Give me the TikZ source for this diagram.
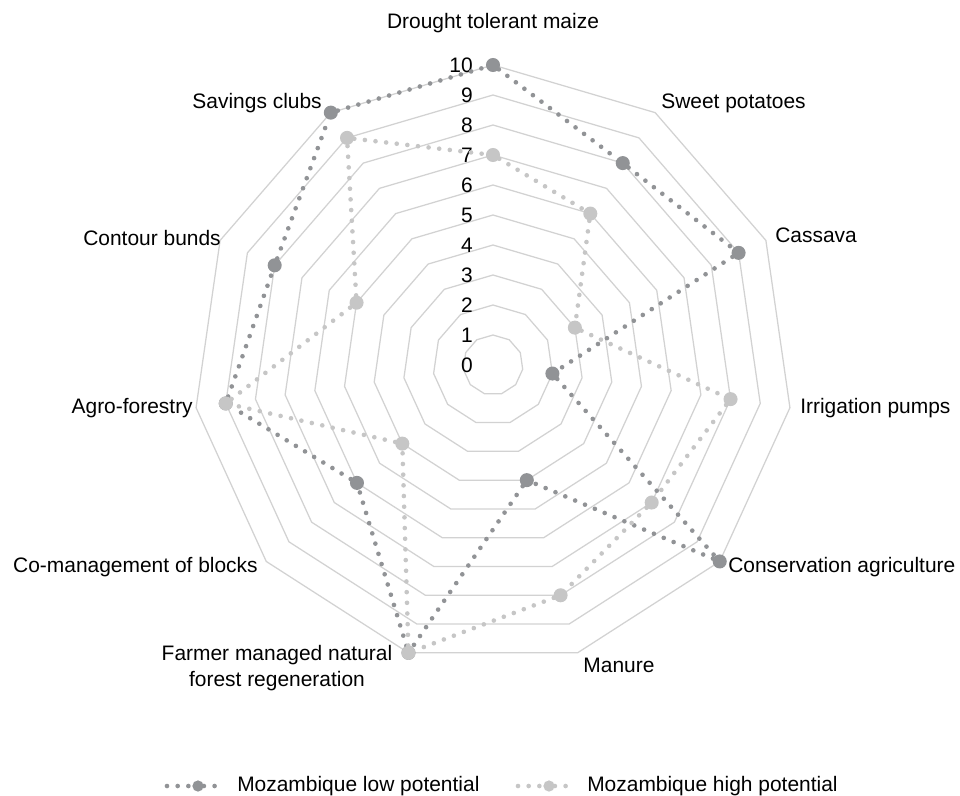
\documentclass[tikz,border=0pt]{standalone}
\usepackage{fontspec}
\setmainfont{Liberation Sans}
\usepackage{tikz}
\usepackage{xcolor}
\usetikzlibrary{positioning}
\definecolor{gridgray}{RGB}{210, 210, 210}
\definecolor{lowgray}{RGB}{145, 147, 150}
\definecolor{highgray}{RGB}{198, 198, 198}
\tikzset{
  gridline/.style={draw=gridgray, line width=0.9pt},
  serieline/.style={draw=#1, line width=3.3pt, line cap=round, dash pattern=on 0pt off 7.6pt},
  seriedot/.style={circle, fill=#1, inner sep=0pt, minimum size=10pt},
  keydot/.style={circle, fill=#1, inner sep=0pt, minimum size=8pt},
  catlabel/.style={font=\fontsize{14.9}{18.5}\selectfont, inner sep=0pt, text=black},
  levellabel/.style={font=\fontsize{14.9}{18.5}\selectfont, inner sep=0pt, anchor=east},
}

\begin{document}
\begin{tikzpicture}
\useasboundingbox (-12.325,-10.75) rectangle (11.675,9.125);

\foreach \r in {1,...,10}
  \draw[gridline] (90:{\r*0.75}) \foreach \k in {1,...,10} {-- ({90-\k*360/11}:{\r*0.75})} -- cycle;

\foreach \r in {0,...,10}
  \node[levellabel] (lvl-\r) at (-0.5,{\r*0.75}) {\r};

\node[catlabel] (cat-maize) at (0,8.55) {Drought tolerant maize};
\node[catlabel, anchor=west] (cat-sweet) at (4.2,6.55) {Sweet potatoes};
\node[catlabel, anchor=west] (cat-cassava) at (7.05,3.25) {Cassava};
\node[catlabel, anchor=west] (cat-pumps) at (7.675,-1.075) {Irrigation pumps};
\node[catlabel, anchor=west] (cat-conserv) at (5.875,-5.05) {Conservation agriculture};
\node[catlabel] (cat-manure) at (3.15,-7.5) {Manure};
\node[catlabel, align=center] (cat-fmnr) at (-5.4,-7.575) {Farmer managed natural\\forest regeneration};
\node[catlabel, anchor=east] (cat-blocks) at (-5.875,-5.05) {Co-management of blocks};
\node[catlabel, anchor=east] (cat-agro) at (-7.5,-1.075) {Agro-forestry};
\node[catlabel, anchor=east] (cat-bunds) at (-6.8,3.175) {Contour bunds};
\node[catlabel, anchor=east] (cat-savings) at (-4.275,6.55) {Savings clubs};

\foreach \i/\v in {0/10,1/8,2/9,3/2,4/10,5/4,6/10,7/6,8/9,9/8,10/10}
  \node[seriedot=lowgray] (low-\i) at ({90-\i*360/11}:{\v*0.75}) {};
\draw[serieline=lowgray] (low-0) -- (low-1) -- (low-2) -- (low-3) -- (low-4) -- (low-5)
  -- (low-6) -- (low-7) -- (low-8) -- (low-9) -- (low-10) -- (low-0);

\foreach \i/\v in {0/7,1/6,2/3,3/8,4/7,5/8,6/10,7/4,8/9,9/5,10/9}
  \node[seriedot=highgray] (high-\i) at ({90-\i*360/11}:{\v*0.75}) {};
\draw[serieline=highgray] (high-0) -- (high-1) -- (high-2) -- (high-3) -- (high-4) -- (high-5)
  -- (high-6) -- (high-7) -- (high-8) -- (high-9) -- (high-10) -- (high-0);

\coordinate (lowkey-a) at (-8.15,-10.525);
\coordinate (lowkey-b) at (-6.7,-10.525);
\node[keydot=lowgray] (lowkey) at (-7.375,-10.525) {};
\draw[serieline=lowgray] (lowkey-a) -- (lowkey) -- (lowkey-b);
\node[catlabel, right=0.3cm of lowkey-b] (lowkey-text) {Mozambique low potential};

\coordinate (highkey-a) at (0.625,-10.525);
\coordinate (highkey-b) at (2.05,-10.525);
\node[keydot=highgray] (highkey) at (1.4,-10.525) {};
\draw[serieline=highgray] (highkey-a) -- (highkey) -- (highkey-b);
\node[catlabel, right=0.3cm of highkey-b] (highkey-text) {Mozambique high potential};
\end{tikzpicture}
\end{document}
